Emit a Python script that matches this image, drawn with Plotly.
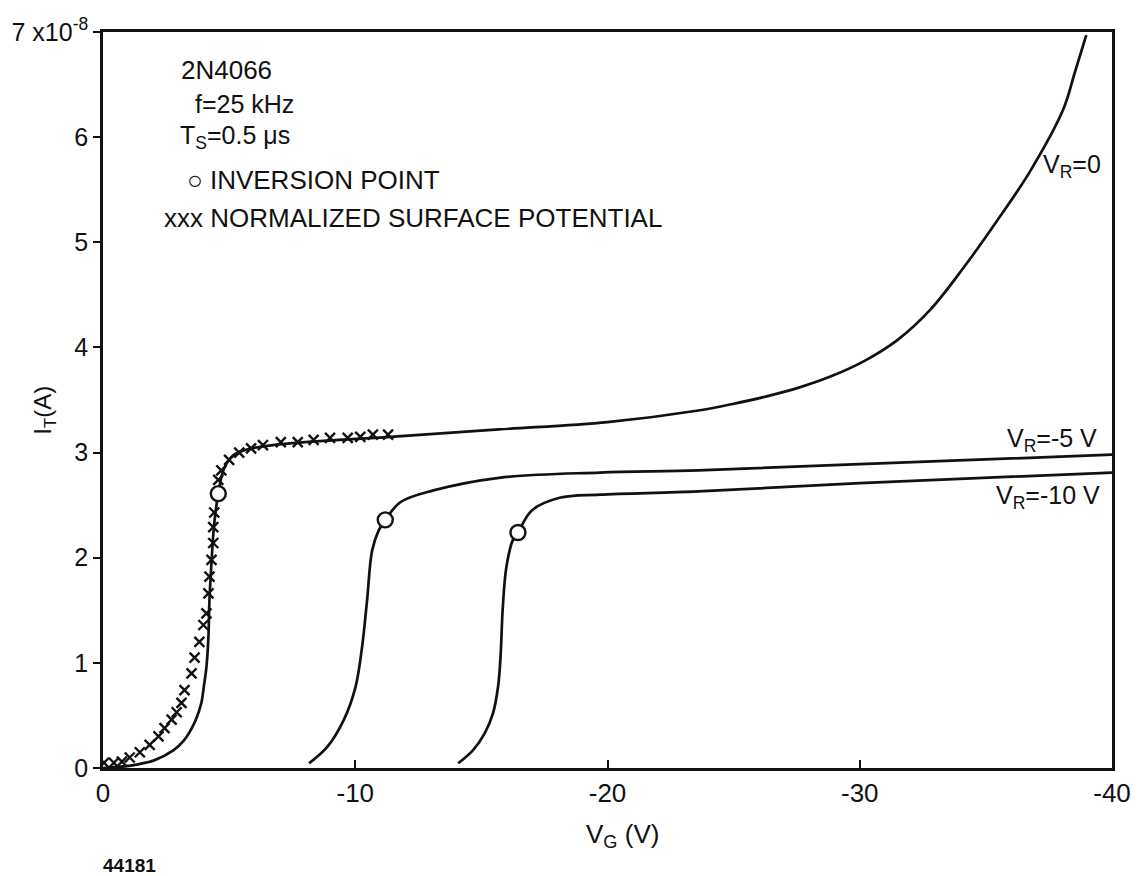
import plotly.graph_objects as go

# Gate voltage V_G (V) and current I_T in units of 1e-8 A
vr0_vg = [0, -1.0, -2.0, -2.8, -3.2, -3.5, -3.7, -3.9, -4.0, -4.1, -4.18, -4.22, -4.3, -4.4, -4.57,
          -4.8, -5.2, -5.9, -7.5, -11.4, -15.7, -20.0, -23.6, -24.92, -26.23, -27.55, -28.86,
          -30.17, -31.49, -32.8, -34.12, -35.43, -36.74, -38.06, -38.52, -38.98]
vr0_it = [0, 0.02, 0.07, 0.17, 0.26, 0.37, 0.47, 0.62, 0.78, 0.96, 1.25, 1.6, 1.95, 2.3, 2.61,
          2.85, 2.98, 3.04, 3.09, 3.15, 3.22, 3.29, 3.40, 3.46, 3.53, 3.615, 3.725,
          3.87, 4.07, 4.36, 4.76, 5.20, 5.67, 6.26, 6.61, 6.97]

vr5_vg = [-8.17, -8.89, -9.55, -10.01, -10.27, -10.47, -10.67, -10.93, -11.19, -11.8, -13.1,
          -15.7, -19.7, -23.6, -30.0, -40.0]
vr5_it = [0.045, 0.20, 0.46, 0.77, 1.15, 1.60, 2.07, 2.26, 2.36, 2.53, 2.64,
          2.76, 2.81, 2.83, 2.89, 2.98]

vr10_vg = [-14.08, -14.67, -15.13, -15.46, -15.66, -15.76, -15.85, -15.99, -16.25, -16.45, -17.0,
           -18.1, -19.7, -23.6, -30.0, -40.0]
vr10_it = [0.045, 0.17, 0.33, 0.52, 0.77, 1.06, 1.53, 1.91, 2.17, 2.24, 2.45,
           2.57, 2.60, 2.63, 2.71, 2.81]

# Normalized surface potential (crosses)
nsp_vg = [-0.04, -0.43, -0.75, -1.06, -1.46, -1.85, -2.2, -2.44, -2.72, -2.92, -3.11, -3.23,
          -3.51, -3.63, -3.82, -3.98, -4.1, -4.18, -4.22, -4.3, -4.37, -4.37, -4.41, -4.57,
          -4.69, -5.0, -5.4, -5.87, -6.34, -7.05, -7.72, -8.35, -9.0, -9.7, -10.2, -10.7, -11.3]
nsp_it = [0.05, 0.05, 0.06, 0.10, 0.15, 0.22, 0.30, 0.38, 0.46, 0.53, 0.62, 0.74,
          0.90, 1.05, 1.20, 1.36, 1.47, 1.66, 1.82, 1.98, 2.14, 2.29, 2.43, 2.74,
          2.83, 2.93, 3.00, 3.04, 3.07, 3.10, 3.10, 3.12, 3.14, 3.14, 3.15, 3.17, 3.17]

# Inversion points
inv_vg = [-4.57, -11.19, -16.45]
inv_it = [2.61, 2.36, 2.24]

x_ticks = [0, -10, -20, -30, -40]
x_ticktext = ["0", "-10", "-20", "-30", "-40"]
y_ticks = [0, 1, 2, 3, 4, 5, 6, 7]
y_ticktext = ["0", "1", "2", "3", "4", "5", "6", "7 x10<sup>-8</sup>"]

FONT = "Liberation Sans"
ink = "#111111"

fig = go.Figure()
line_style = dict(color=ink, width=2.7, shape="spline", smoothing=1.0)
for xs, ys, nm in [(vr0_vg, vr0_it, "V_R=0"), (vr5_vg, vr5_it, "V_R=-5 V"), (vr10_vg, vr10_it, "V_R=-10 V")]:
    fig.add_trace(go.Scatter(x=xs, y=ys, mode="lines", line=line_style, name=nm, showlegend=False))

fig.add_trace(go.Scatter(x=nsp_vg, y=nsp_it, mode="markers", showlegend=False,
                         marker=dict(symbol="x-thin-open", size=10, color=ink, line=dict(color=ink, width=2.4))))
fig.add_trace(go.Scatter(x=inv_vg, y=inv_it, mode="markers", showlegend=False,
                         marker=dict(symbol="circle", size=15, color="white", line=dict(color=ink, width=2.4))))

fig.update_layout(
    width=1143, height=876,
    margin=dict(l=101, r=27, t=32, b=108),
    paper_bgcolor="white", plot_bgcolor="white",
    font=dict(family=FONT, size=24, color=ink),
    xaxis=dict(range=[0, -40], tickvals=x_ticks, ticktext=x_ticktext, ticks="inside", ticklen=8,
               tickwidth=2, tickcolor=ink, showgrid=False, zeroline=False, showline=True,
               linecolor=ink, linewidth=2.5, mirror=True, tickfont=dict(size=26, family=FONT)),
    yaxis=dict(range=[0, 7], tickvals=y_ticks, ticktext=y_ticktext, ticks="outside", ticklen=7,
               tickwidth=2, tickcolor=ink, showgrid=False, zeroline=False, showline=True,
               linecolor=ink, linewidth=2.5, mirror=True, tickfont=dict(size=25, family=FONT)),
)

ann = []
def A(text, x, y, xanchor="left", size=25, angle=0):
    ann.append(dict(text=text, x=x, y=y, xref="paper", yref="paper", xanchor=xanchor, yanchor="middle",
                    showarrow=False, textangle=angle, font=dict(family=FONT, size=size, color=ink)))

A("2N4066", 0.075, 0.948, size=26)
A("f=25 kHz", 0.089, 0.902)
A("T<sub>S</sub>=0.5 μs", 0.074, 0.858)
A("○ INVERSION POINT", 0.081, 0.799, size=26)
A("xxx NORMALIZED SURFACE POTENTIAL", 0.058, 0.747, size=26)
A("V<sub>R</sub>=0", 0.991, 0.818, xanchor="right")
A("V<sub>R</sub>=-5 V", 0.987, 0.445, xanchor="right")
A("V<sub>R</sub>=-10 V", 0.990, 0.368, xanchor="right")
A("V<sub>G</sub> (V)", 0.515, -0.092, xanchor="center", size=26)
A("I<sub>T</sub>(A)", -0.058, 0.486, xanchor="center", size=24, angle=-90)
A("<b>44181</b>", -0.002, -0.133, xanchor="left", size=19)
fig.update_layout(annotations=ann)

fig.write_html("out.html")
